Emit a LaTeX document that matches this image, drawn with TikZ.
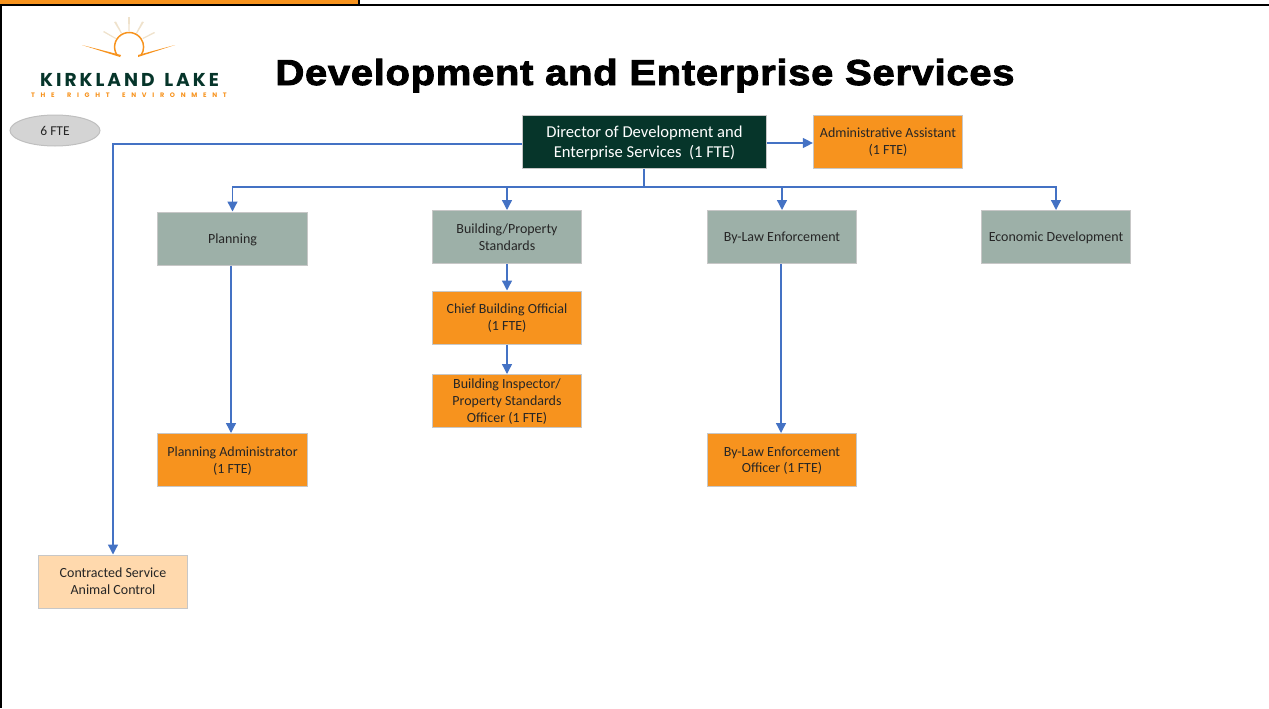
\documentclass[tikz,border=0pt]{standalone}
\usepackage{fontspec}
\setmainfont{Carlito}
\newfontfamily\titlefont[BoldFeatures={FakeBold=2.5,FakeStretch=1.11,LetterSpace=1.9}]{Liberation Sans}
\newfontfamily\logofont{Poppins}
\usetikzlibrary{arrows.meta}
\usetikzlibrary{shapes.geometric}
\definecolor{boxorange}{HTML}{F7931E}
\definecolor{boxgrey}{HTML}{9DB0A8}
\definecolor{boxgreen}{HTML}{06352A}
\definecolor{boxpeach}{HTML}{FFD9AD}
\definecolor{linkblue}{HTML}{4472C4}
\definecolor{rayfill}{HTML}{EFE2CC}
\tikzset{
    % Every connector in the chart
    >={Triangle[length=2mm,width=2mm]},
    link/.style={draw=linkblue, line width=.27mm},
%
    % Common box shape, about 150 by 53 pixels
    chart box/.style={
        draw=black!22, line width=.2mm, align=center, text=black!85,
        font=\fontsize{7.95}{9.6}\selectfont, text depth=.3pt,
        minimum width=29.85mm, minimum height=10.6mm, inner sep=0},
    post box/.style={chart box, fill=boxorange},
    unit box/.style={chart box, fill=boxgrey},
    contract box/.style={chart box, fill=boxpeach},
    head box/.style={chart box, fill=boxgreen, text=white, text depth=.3pt,
        font=\fontsize{9.45}{11.4}\selectfont, minimum width=48.7mm, minimum height=10.5mm},
    logo ray/.style={fill=rayfill}}

\begin{document}
\begin{tikzpicture}[x=.2mm, y=-.2mm]

\useasboundingbox (0,0) rectangle (1269,708);

% Page edge
\fill [boxorange] (0,0) rectangle (358,4);
\fill (0,4) rectangle (1269,6);
\fill (358,0) rectangle (360,4);
\fill (0,4) rectangle (2,708);

% Logo
\fill [logo ray] (114,22) -- (116,21.5) -- (122,33) -- (121,33.5) -- cycle;
\fill [logo ray] (128,17) -- (130,17) -- (129.5,31) -- (128.5,31) -- cycle;
\fill [logo ray] (142,21.5) -- (144,22) -- (137,33.5) -- (136,33) -- cycle;
\fill [logo ray] (103,32) -- (104,31) -- (116,38) -- (115.5,39) -- cycle;
\fill [logo ray] (154,32) -- (155,33) -- (143,39) -- (142.5,38) -- cycle;
\draw [boxorange, line width=.3mm] (117,55) arc [start angle=146.5, end angle=393.5, radius=14.5];
\fill [boxorange] (82,45) -- (121,55) -- (120,57) -- cycle;
\fill [boxorange] (175,45) -- (138,55) -- (138,57) -- cycle;
\node [anchor=base, inner sep=0, text=boxgreen,
    font=\logofont\bfseries\fontsize{10.6}{12}\selectfont\addfontfeature{LetterSpace=16}]
    (logoname) at (129.5,86) {KIRKLAND\hspace{1.5pt} LAKE};
\node [anchor=base, inner sep=0, text=boxorange,
    font=\logofont\bfseries\fontsize{3.7}{4}\selectfont\addfontfeature{LetterSpace=88}]
    (logotag) at (129,97) {THE\hspace{3pt} RIGHT\hspace{3pt} ENVIRONMENT};

% Title
\node [anchor=base, inner sep=0, font=\titlefont\bfseries\fontsize{20.5}{24}\selectfont]
    (title) at (645,85) {Development and Enterprise Services};

% Head count
\node [ellipse, draw=black!25, line width=.2mm, fill=black!17, minimum width=18mm, minimum height=6.2mm,
    inner sep=0, text=black!85, font=\fontsize{7.7}{9}\selectfont] (fte) at (55,130.5) {6 FTE};

% Boxes
\node [head box] (director) at (644.5,142)
    {Director of Development and\\Enterprise Services~ (1 FTE)};
\node [post box] (assistant) at (888,141.5) {Administrative Assistant\\(1 FTE)};

\node [unit box] (planning) at (232.5,238.5) {Planning};
\node [unit box] (building) at (507,237) {Building/Property\\Standards};
\node [unit box] (bylaw) at (782,237) {By-Law Enforcement};
\node [unit box] (economic) at (1056,237) {Economic Development};

\node [post box] (chief) at (507,317.5) {Chief Building Official\\(1 FTE)};
\node [post box] (inspector) at (507,401) {Building Inspector/\\Property Standards\\Officer (1 FTE)};
\node [post box] (planadmin) at (232.5,460) {Planning Administrator\\(1 FTE)};
\node [post box] (bylawofficer) at (782,460) {By-Law Enforcement\\Officer (1 FTE)};
\node [contract box] (contracted) at (113,581.5) {Contracted Service\\Animal Control};

% Connectors
\coordinate (trunk) at (644,187);
\draw [link] (director.south -| trunk) -- (trunk);
\foreach \unit in {planning, building, bylaw, economic}
    \draw [link, ->] (trunk) -| (\unit.north);

\draw [link, ->] ([yshift=-.4mm]director.west) -| (contracted.north);
\draw [link, ->] ([yshift=-.3mm]director.east |- assistant) -- ([yshift=-.3mm]assistant.west);
\draw [link, ->] ([xshift=-.3mm]planning.south) -- ([xshift=-.3mm]planadmin.north);
\draw [link, ->] (building) -- (chief);
\draw [link, ->] (chief) -- (inspector);
\draw [link, ->] ([xshift=-.2mm]bylaw.south) -- ([xshift=-.2mm]bylawofficer.north);

\end{tikzpicture}
\end{document}
